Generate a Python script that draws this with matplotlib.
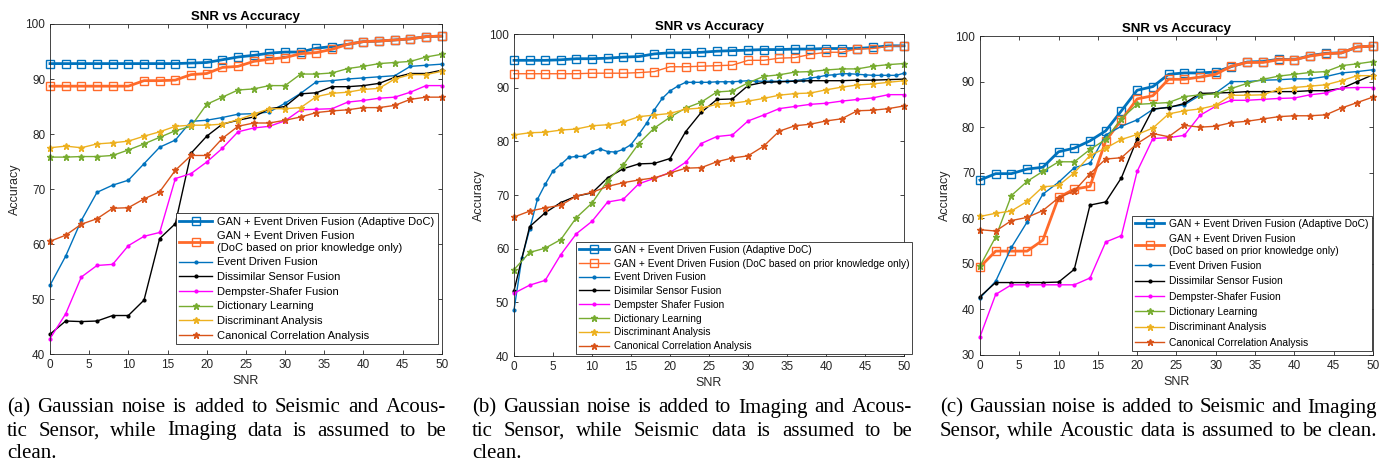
import numpy as np
import matplotlib
matplotlib.use("Agg")
import matplotlib.pyplot as plt

plt.rcParams['font.family'] = ['Liberation Sans', 'DejaVu Sans']

snr = np.arange(0, 51, 2)
snr_fine = np.arange(0, 51, 1)

labels_ac = ["GAN + Event Driven Fusion (Adaptive DoC)",
             "GAN + Event Driven Fusion\n(DoC based on prior knowledge only)",
             "Event Driven Fusion", "Dissimilar Sensor Fusion", "Dempster-Shafer Fusion",
             "Dictionary Learning", "Discriminant Analysis", "Canonical Correlation Analysis"]
labels_b = ["GAN + Event Driven Fusion (Adaptive DoC)",
            "GAN + Event Driven Fusion (DoC based on prior knowledge only)",
            "Event Driven Fusion", "Disimilar Sensor Fusion", "Dempster Shafer Fusion",
            "Dictionary Learning", "Discriminant Analysis", "Canonical Correlation Analysis"]

# (a) seismic + acoustic noisy
a_gan_adapt = [92.8, 92.8, 92.8, 92.8, 92.8, 92.8, 92.8, 92.8, 92.8, 92.9, 93.0, 93.5, 94.0,
               94.3, 94.7, 94.9, 94.9, 95.6, 95.9, 96.3, 96.8, 96.9, 97.1, 97.3, 97.7, 97.8]
a_gan_prior = [88.7, 88.7, 88.7, 88.7, 88.7, 88.7, 89.7, 89.7, 89.8, 90.8, 91.0, 92.1, 92.3,
               93.2, 93.6, 93.9, 94.6, 94.8, 95.4, 96.3, 96.8, 96.9, 97.1, 97.3, 97.7, 97.8]
a_event = [52.5, 57.8, 64.3, 69.4, 70.7, 71.6, 74.6, 77.6, 78.9, 82.3, 82.5, 83.0, 83.6,
           83.7, 84.0, 85.6, 87.4, 89.5, 89.7, 90.0, 90.2, 90.4, 90.6, 92.3, 92.5, 92.7]
a_dissim = [43.6, 46.0, 45.9, 46.0, 47.0, 47.0, 49.8, 61.0, 63.7, 76.5, 79.6, 81.8, 82.5,
            83.1, 84.6, 85.0, 87.3, 87.5, 88.6, 88.6, 88.8, 89.2, 90.3, 91.0, 91.0, 91.6]
a_dempster = [42.8, 47.3, 54.0, 56.1, 56.3, 59.7, 61.4, 62.1, 71.9, 72.8, 74.9, 77.4, 80.4,
              81.1, 81.4, 82.4, 84.4, 84.5, 84.6, 85.8, 86.1, 86.5, 86.7, 87.6, 88.8, 88.8]
a_dict = [75.8, 75.8, 75.9, 75.9, 76.1, 77.1, 78.2, 79.4, 80.6, 81.4, 85.4, 86.7, 88.0,
          88.2, 88.8, 88.8, 90.9, 90.9, 91.1, 91.9, 92.3, 92.8, 93.0, 93.2, 94.0, 94.5]
a_discrim = [77.5, 77.8, 77.5, 78.2, 78.4, 78.7, 79.6, 80.4, 81.4, 81.6, 81.6, 81.8, 82.6,
             83.6, 84.6, 84.6, 84.8, 86.8, 87.4, 87.6, 88.1, 88.3, 90.0, 90.8, 90.8, 91.4]
a_cca = [60.5, 61.6, 63.6, 64.6, 66.5, 66.6, 68.2, 69.5, 73.4, 76.1, 76.1, 79.2, 81.4,
         82.0, 82.0, 82.5, 83.1, 83.9, 84.2, 84.4, 84.8, 84.8, 85.2, 86.3, 86.7, 86.7]

# (b) imaging + acoustic noisy
b_gan_adapt = [95.1, 95.1, 95.1, 95.2, 95.4, 95.4, 95.5, 95.7, 95.8, 96.3, 96.5, 96.5, 96.6,
               96.8, 96.9, 97.0, 97.1, 97.1, 97.2, 97.2, 97.3, 97.3, 97.3, 97.5, 97.8, 97.8]
b_gan_prior = [92.6, 92.6, 92.6, 92.6, 92.6, 92.7, 92.7, 92.7, 92.8, 93.0, 93.9, 93.9, 94.0,
               94.1, 94.2, 95.1, 95.1, 95.5, 95.6, 96.2, 96.6, 96.6, 97.2, 97.3, 97.7, 97.8]
b_event = [48.6, 58.2, 63.6, 69.2, 72.0, 74.5, 75.7, 77.0, 77.2, 77.2, 78.1, 78.6, 78.1,
           78.0, 78.5, 79.4, 81.3, 83.4, 85.9, 88.0, 89.4, 90.3, 91.0, 91.0, 91.0, 91.0,
           91.1, 91.1, 91.1, 91.2, 91.3, 91.2, 91.2, 91.2, 91.2, 91.2, 91.3, 91.5, 91.8,
           92.0, 92.3, 92.4, 92.6, 92.6, 92.5, 92.4, 92.3, 92.3, 92.3, 92.3, 92.7]
b_dissim = [52.2, 64.1, 66.7, 68.6, 69.8, 70.4, 73.2, 74.9, 75.8, 75.9, 76.8, 81.8, 85.4,
            87.8, 87.9, 90.4, 91.0, 91.1, 91.2, 91.3, 91.3, 91.3, 91.4, 91.4, 91.5, 91.6]
b_dempster = [51.7, 53.2, 54.1, 58.9, 62.8, 65.1, 68.7, 69.2, 72.1, 73.1, 74.2, 76.1, 79.6,
              80.9, 81.2, 83.8, 84.9, 86.1, 86.5, 86.9, 87.1, 87.5, 87.8, 88.1, 88.7, 88.7]
b_dict = [56.1, 59.3, 60.1, 61.7, 65.8, 68.5, 72.7, 75.6, 79.6, 82.5, 84.5, 86.2, 87.3,
          89.2, 89.4, 90.9, 92.1, 92.4, 92.9, 93.0, 93.3, 93.5, 93.5, 94.0, 94.3, 94.5]
b_discrim = [81.2, 81.6, 81.7, 82.1, 82.3, 82.9, 83.1, 83.6, 84.6, 84.9, 85.2, 86.0, 86.2,
             86.9, 87.1, 87.5, 88.0, 88.6, 88.9, 89.0, 89.6, 90.1, 90.5, 90.7, 91.0, 91.3]
b_cca = [65.9, 67.0, 67.6, 68.1, 69.8, 70.5, 71.6, 72.3, 72.8, 73.2, 74.1, 75.0, 75.1,
         76.2, 76.9, 77.3, 79.1, 81.9, 82.9, 83.2, 83.8, 84.2, 85.7, 85.8, 86.1, 86.6]

# (c) seismic + imaging noisy
c_gan_adapt = [68.4, 69.8, 69.8, 70.8, 71.2, 74.6, 75.4, 77.0, 79.2, 83.6, 88.1, 88.9, 91.6,
               91.9, 91.9, 92.1, 93.3, 94.3, 94.4, 94.9, 94.8, 95.7, 96.2, 96.3, 97.6, 97.8]
c_gan_prior = [49.3, 52.8, 52.8, 52.8, 55.2, 64.6, 66.4, 67.0, 77.0, 81.6, 86.2, 86.9, 90.5,
               90.5, 91.0, 91.6, 93.4, 94.2, 94.2, 94.8, 94.8, 95.6, 96.1, 96.3, 97.6, 97.8]
c_event = [42.5, 46.2, 53.6, 59.2, 65.3, 67.9, 71.1, 72.1, 78.3, 80.2, 81.6, 83.9, 84.4,
           84.9, 87.0, 87.5, 90.0, 90.0, 90.3, 90.4, 90.6, 90.6, 91.1, 91.9, 92.2, 92.6]
c_dissim = [42.8, 45.9, 45.9, 45.9, 45.9, 46.0, 48.8, 62.9, 63.6, 68.9, 77.4, 84.0, 84.3,
            85.2, 87.4, 87.5, 87.6, 87.8, 87.8, 87.8, 87.8, 88.0, 88.0, 88.5, 90.0, 91.5]
c_dempster = [34.0, 43.3, 45.4, 45.4, 45.4, 45.4, 45.4, 46.9, 54.8, 56.2, 70.3, 77.5, 77.7,
              78.2, 82.6, 84.6, 85.9, 85.9, 86.1, 86.3, 86.4, 87.1, 87.5, 88.6, 88.7, 88.7]
c_dict = [49.5, 55.9, 65.0, 68.1, 70.3, 72.4, 72.4, 75.1, 77.3, 81.9, 85.0, 85.2, 85.4,
          86.7, 87.1, 87.3, 88.5, 89.6, 90.5, 91.2, 91.6, 92.0, 92.2, 93.5, 93.9, 94.4]
c_discrim = [60.4, 61.1, 61.6, 63.7, 66.9, 67.2, 70.0, 73.8, 75.4, 77.3, 78.4, 79.8, 82.9,
             83.6, 84.0, 84.8, 87.0, 87.0, 87.1, 88.3, 88.7, 89.0, 89.3, 90.2, 91.3, 91.3]
c_cca = [57.5, 57.2, 59.5, 60.2, 61.7, 64.5, 66.0, 69.8, 73.0, 73.3, 76.4, 78.6, 77.9,
         80.4, 80.0, 80.2, 81.0, 81.3, 81.8, 82.3, 82.5, 82.5, 82.7, 84.2, 85.4, 86.6]

captions = [
    ["(a) Gaussian noise is added to Seismic and Acous-",
     "tic Sensor, while Imaging data is assumed to be", "clean."],
    ["(b) Gaussian noise is added to Imaging and Acous-",
     "tic Sensor, while Seismic data is assumed to be", "clean."],
    ["(c) Gaussian noise is added to Seismic and Imaging",
     "Sensor, while Acoustic data is assumed to be clean."],
]

BLUE = '#0072BD'
ORANGE = '#FF6A2A'
RED = '#D95319'
GREEN = '#77AC30'
YELLOW = '#EDB120'
MAGENTA = '#FF00FF'

fig = plt.figure(figsize=(13.93, 4.66), dpi=100)

panels = [
    dict(pos=[0.0359, 0.2403, 0.2812, 0.7082], ylim=(40, 100), labels=labels_ac,
         data=[a_gan_adapt, a_gan_prior, a_event, a_dissim, a_dempster, a_dict, a_discrim, a_cca],
         ev_x=snr, prior_lw=2.0, leg=(0.99, 0.03), lfs=8, lsp=0.42, hl=2.9),
    dict(pos=[0.369, 0.236, 0.280, 0.691], ylim=(40, 100), labels=labels_b,
         data=[b_gan_adapt, b_gan_prior, b_event, b_dissim, b_dempster, b_dict, b_discrim, b_cca],
         ev_x=snr_fine, prior_lw=1.0, leg=(1.021, 0.006), lfs=7.3, lsp=0.37, hl=2.9),
    dict(pos=[0.7035, 0.2382, 0.2821, 0.6845], ylim=(30, 100), labels=labels_ac,
         data=[c_gan_adapt, c_gan_prior, c_event, c_dissim, c_dempster, c_dict, c_discrim, c_cca],
         ev_x=snr, prior_lw=2.0, leg=(0.997, 0.013), lfs=7.4, lsp=0.52, hl=2.8),
]

for p in panels:
    ax = fig.add_axes(p['pos'])
    d = p['data']
    lab = p['labels']
    ax.plot(snr, d[0], color=BLUE, lw=2.0, marker='s', ms=6, mfc='none', mew=1.0, label=lab[0], clip_on=False)
    ax.plot(snr, d[1], color=ORANGE, lw=p['prior_lw'], marker='s', ms=6, mfc='none', mew=1.0, label=lab[1], clip_on=False)
    ax.plot(p['ev_x'], d[2], color=BLUE, lw=1.0, marker='.', ms=4, label=lab[2], clip_on=False)
    ax.plot(snr, d[3], color='black', lw=1.0, marker='.', ms=4, label=lab[3], clip_on=False)
    ax.plot(snr, d[4], color=MAGENTA, lw=1.0, marker='.', ms=4, label=lab[4], clip_on=False)
    ax.plot(snr, d[5], color=GREEN, lw=1.0, marker='*', ms=5, label=lab[5], clip_on=False)
    ax.plot(snr, d[6], color=YELLOW, lw=1.0, marker='*', ms=5, label=lab[6], clip_on=False)
    ax.plot(snr, d[7], color=RED, lw=1.0, marker='*', ms=5, label=lab[7], clip_on=False)

    ax.set_xlim(0, 50)
    ax.set_ylim(*p['ylim'])
    ax.set_xticks(np.arange(0, 51, 5))
    ax.set_yticks(np.arange(p['ylim'][0], 101, 10))
    ax.tick_params(direction='in', top=True, right=True, labelsize=8.5, colors='#262626',
                   length=3, width=0.6)
    for s in ax.spines.values():
        s.set_color('#262626')
        s.set_linewidth(0.6)
    ax.set_title("SNR vs Accuracy", fontsize=9.5, fontweight='bold', pad=3)
    ax.set_xlabel("SNR", fontsize=9, color='#262626', labelpad=3)
    ax.set_ylabel("Accuracy", fontsize=9, color='#262626', labelpad=3)
    leg = ax.legend(loc='lower right', bbox_to_anchor=p['leg'], borderaxespad=0, fontsize=p['lfs'],
                    handlelength=p['hl'], handletextpad=0.5, labelspacing=p['lsp'], borderpad=0.3,
                    fancybox=False, framealpha=1, edgecolor='#262626')
    leg.get_frame().set_linewidth(0.6)
    leg.set_zorder(5)

# captions, justified like the paper layout
renderer = fig.canvas.get_renderer()
cap_x = [(7, 446), (472, 912), (940, 1377)]
cap_y = [408, 431, 453]
W, H = 1393.0, 466.0
CAP_FS = 15


def put_line(x0, x1, y, line, justify):
    ty = 1 - y / H
    words = line.split(' ')
    texts = [fig.text(0, ty, w, fontsize=CAP_FS, family='Liberation Serif', va='center', ha='left') for w in words]
    widths = [t.get_window_extent(renderer).width for t in texts]
    space = fig.text(0, ty, 'a a', fontsize=CAP_FS, family='Liberation Serif').get_window_extent(renderer).width
    aa = fig.text(0, ty, 'aa', fontsize=CAP_FS, family='Liberation Serif').get_window_extent(renderer).width
    gap = space - aa
    if justify:
        gap = max(gap * 0.8, ((x1 - x0) - sum(widths)) / (len(words) - 1))
    x = x0
    for t, w in zip(texts, widths):
        t.set_x(x / W)
        x += w + gap


for (x0, x1), lines in zip(cap_x, captions):
    for i, line in enumerate(lines):
        put_line(x0, x1, cap_y[i], line, justify=(i < len(lines) - 1) or len(lines) == 2)

for t in fig.texts:
    if t.get_text() in ('a a', 'aa'):
        t.set_visible(False)

fig.savefig("out.png", dpi=100)
